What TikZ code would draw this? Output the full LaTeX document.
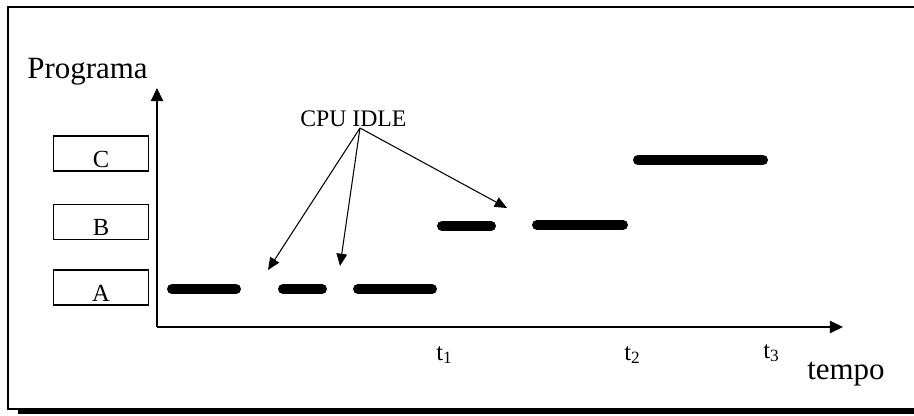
\documentclass[tikz,border=0pt]{standalone}
\usepackage{fontspec}
\setmainfont{Liberation Serif}
\usetikzlibrary{arrows.meta,positioning}

\begin{document}
\begin{tikzpicture}[
    x=0.02cm, y=-0.02cm,
    prog/.style={draw, line width=0.8pt, inner sep=0pt, minimum width=1.9cm,
                 minimum height=0.7cm, text height=15.4pt, text depth=0pt,
                 font=\fontsize{14}{16}\selectfont},
    axis/.style={-{Triangle[length=7.5pt,width=7pt]}, line width=0.8pt},
    idlearr/.style={-{Triangle[length=7pt,width=6pt]}, line width=0.6pt},
    run/.style={line width=5.7pt, line cap=round},
    lbl/.style={anchor=base west, inner sep=0pt, font=\fontsize{14}{16}\selectfont},
    big/.style={anchor=base west, inner sep=0pt, font=\fontsize{17.6}{20}\selectfont}
  ]
    \clip (0,0) rectangle (914,416);

    % --- frame with shadow ---
    \draw[line width=0.8pt] (8,7) rectangle (920,409);
    \draw[line width=2.8pt] (18,412) -- (920,412);

    % --- axes ---
    \coordinate (O) at (157,327);
    \coordinate (ytop) at (157,88);
    \coordinate (xend) at (843,327);
    \draw[axis] (O) -- (ytop);
    \draw[axis] (O) -- (xend);
    \node[big] (prog) at (27,78) {Programa};
    \node[big] (tempo) at (807,379) {tempo};

    % --- programs ---
    \node[prog] (boxC) at (101,153.5) {C};
    \node[prog] (boxB) at (101,222) {B};
    \node[prog] (boxA) at (101,287.5) {A};

    % --- time marks ---
    \node[lbl] (t1) at (436,360) {t\textsubscript{1}};
    \node[lbl] (t2) at (624,360) {t\textsubscript{2}};
    \node[lbl] (t3) at (763,358) {t\textsubscript{3}};

    % --- execution ---
    \foreach \xa/\xb/\yy in {167/241/289, 278/327/289, 353/437/289,
                             437/496/226, 532/628/225, 633/768/160}
      \draw[run] (\xa+5,\yy) -- (\xb-5,\yy);

    % --- CPU idle ---
    \node[lbl, font=\fontsize{13.5}{15}\selectfont] (idle) at (300,126) {CPU IDLE};
    \coordinate (src) at (360,128);
    \coordinate (gap1) at (268,270);
    \coordinate (gap2) at (340,266);
    \coordinate (gap3) at (507,208);
    \foreach \g in {gap1,gap2,gap3}
      \draw[idlearr] (src) -- (\g);
\end{tikzpicture}
\end{document}
